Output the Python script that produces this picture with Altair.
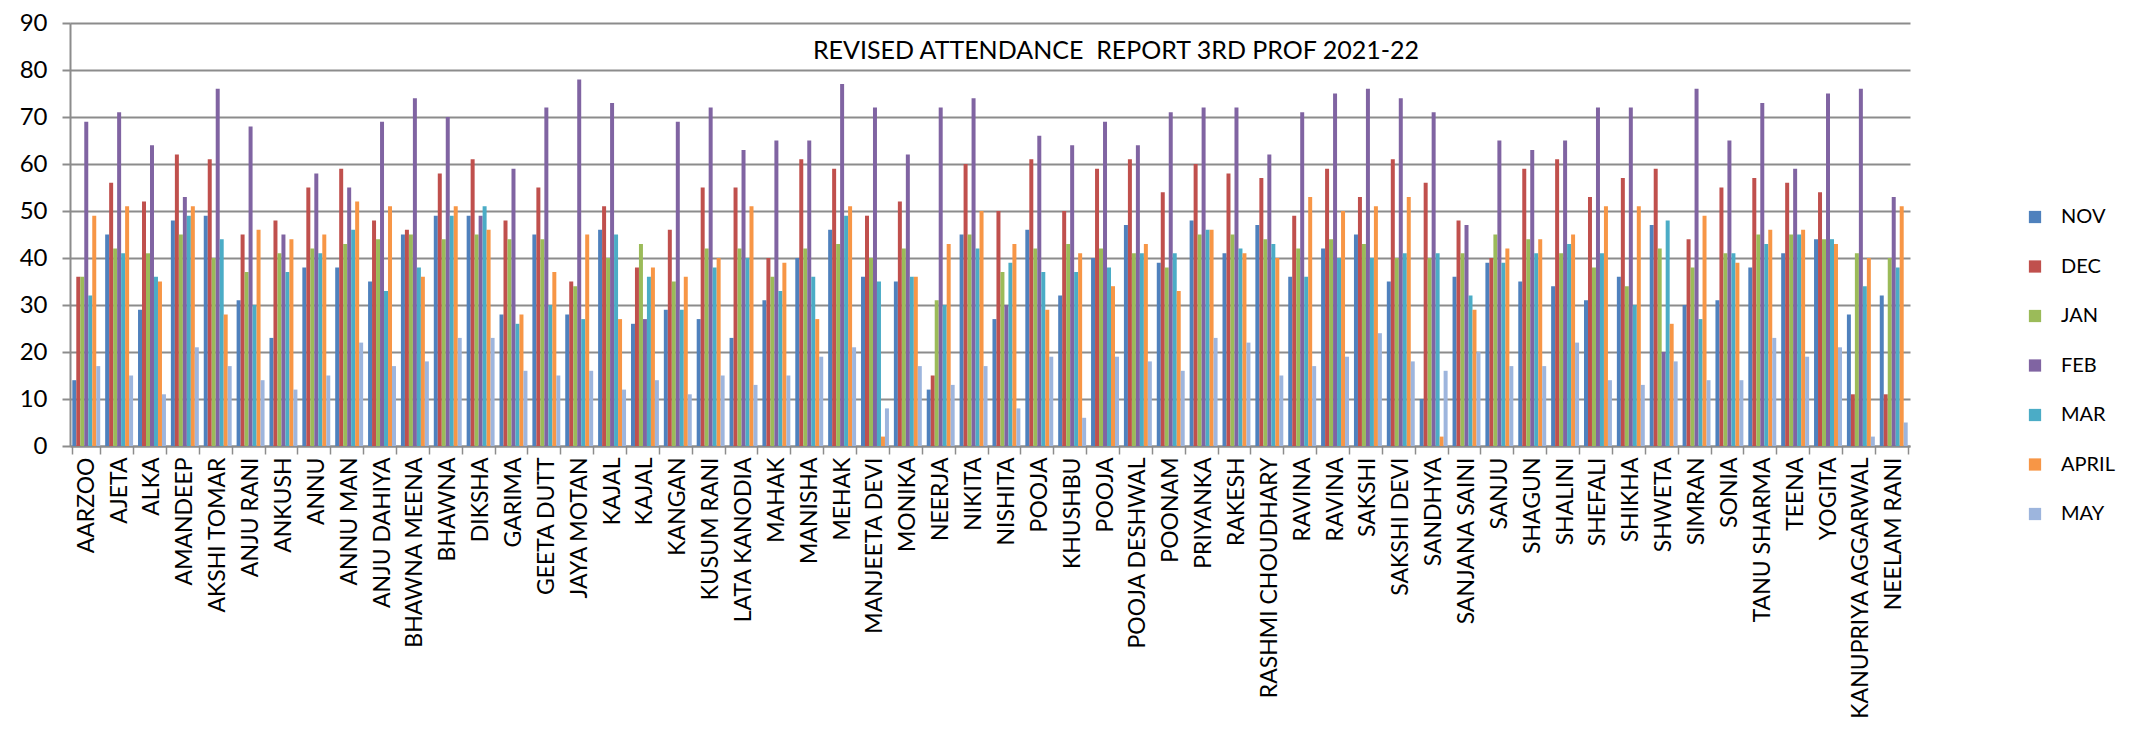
import altair as alt
import pandas as pd

names = ["AARZOO", "AJETA", "ALKA", "AMANDEEP", "AKSHI TOMAR", "ANJU RANI", "ANKUSH", "ANNU",
         "ANNU MAN", "ANJU DAHIYA", "BHAWNA MEENA", "BHAWNA", "DIKSHA", "GARIMA", "GEETA DUTT",
         "JAYA MOTAN", "KAJAL", "KAJAL", "KANGAN", "KUSUM RANI", "LATA KANODIA", "MAHAK",
         "MANISHA", "MEHAK", "MANJEETA DEVI", "MONIKA", "NEERJA", "NIKITA", "NISHITA", "POOJA",
         "KHUSHBU", "POOJA", "POOJA DESHWAL", "POONAM", "PRIYANKA", "RAKESH", "RASHMI CHOUDHARY",
         "RAVINA", "RAVINA", "SAKSHI", "SAKSHI DEVI", "SANDHYA", "SANJANA SAINI", "SANJU",
         "SHAGUN", "SHALINI", "SHEFALI", "SHIKHA", "SHWETA", "SIMRAN", "SONIA", "TANU SHARMA",
         "TEENA", "YOGITA", "KANUPRIYA AGGARWAL", "NEELAM RANI"]

months = ["NOV", "DEC", "JAN", "FEB", "MAR", "APRIL", "MAY"]
colors = ["#4F81BD", "#C0504D", "#9BBB59", "#8064A2", "#4BACC6", "#F79646", "#9DB5DD"]

nov = [14, 45, 29, 48, 49, 31, 23, 38, 38, 35, 45, 49, 49, 28, 45, 28, 46, 26, 29, 27, 23, 31,
       40, 46, 36, 35, 12, 45, 27, 46, 32, 40, 47, 39, 48, 41, 47, 36, 42, 45, 35, 10, 36, 39,
       35, 34, 31, 36, 47, 30, 31, 38, 41, 44, 28, 32]
dec = [36, 56, 52, 62, 61, 45, 48, 55, 59, 48, 46, 58, 61, 48, 55, 35, 51, 38, 46, 55, 55, 40,
       61, 59, 49, 52, 15, 60, 50, 61, 50, 59, 61, 54, 60, 58, 57, 49, 59, 53, 61, 56, 48, 40,
       59, 61, 53, 57, 59, 44, 55, 57, 56, 54, 11, 11]
jan = [36, 42, 41, 45, 40, 37, 41, 42, 43, 44, 45, 44, 45, 44, 44, 34, 40, 43, 35, 42, 42, 36,
       42, 43, 40, 42, 31, 45, 37, 42, 43, 42, 41, 38, 45, 45, 44, 42, 44, 43, 40, 40, 41, 45,
       44, 41, 38, 34, 42, 38, 41, 45, 45, 44, 41, 40]
feb = [69, 71, 64, 53, 76, 68, 45, 58, 55, 69, 74, 70, 49, 59, 72, 78, 73, 27, 69, 72, 63, 65,
       65, 77, 72, 62, 72, 74, 30, 66, 64, 69, 64, 71, 72, 72, 62, 71, 75, 76, 74, 71, 47, 65,
       63, 65, 72, 72, 20, 76, 65, 73, 59, 75, 76, 53]
mar = [32, 41, 36, 49, 44, 30, 37, 41, 46, 33, 38, 49, 51, 26, 30, 27, 45, 36, 29, 38, 40, 33,
       36, 49, 35, 36, 30, 42, 39, 37, 37, 38, 41, 41, 46, 42, 43, 36, 40, 40, 41, 41, 32, 39,
       41, 43, 41, 30, 48, 27, 41, 43, 45, 44, 34, 38]
apr = [49, 51, 35, 51, 28, 46, 44, 45, 52, 51, 36, 51, 46, 28, 37, 45, 27, 38, 36, 40, 51, 39,
       27, 51, 2, 36, 43, 50, 43, 29, 41, 34, 43, 33, 46, 41, 40, 53, 50, 51, 53, 2, 29, 42,
       44, 45, 51, 51, 26, 49, 39, 46, 46, 43, 40, 51]
may = [17, 15, 11, 21, 17, 14, 12, 15, 22, 17, 18, 23, 23, 16, 15, 16, 12, 14, 11, 15, 13, 15,
       19, 21, 8, 17, 13, 17, 8, 19, 6, 19, 18, 16, 23, 22, 15, 17, 19, 24, 18, 16, 20, 17,
       17, 22, 14, 13, 18, 14, 14, 23, 19, 21, 2, 5]

series = [nov, dec, jan, feb, mar, apr, may]
rows = []
for m, vals in zip(months, series):
    for i, v in enumerate(vals):
        rows.append({"idx": i, "month": m, "value": v})
df = pd.DataFrame(rows)

name_js = "[" + ",".join("'" + n + "'" for n in names) + "]"
FONT = "Lato"
GRID = "#8C8C8C"

chart = alt.Chart(df).mark_bar().encode(
    x=alt.X("idx:O", title=None,
            scale=alt.Scale(paddingInner=0.15, paddingOuter=0.07),
            axis=alt.Axis(labelExpr=name_js + "[datum.value]", labelAngle=-90,
                          labelFontSize=23, labelFont=FONT, labelColor="#000000",
                          labelLimit=0, labelOverlap=False,
                          tickBand="extent", tickSize=8, tickColor=GRID, tickWidth=1.5,
                          domainColor=GRID, domainWidth=2, labelPadding=3)),
    xOffset=alt.XOffset("month:N", sort=months, scale=alt.Scale(paddingInner=0, paddingOuter=0)),
    y=alt.Y("value:Q", title=None,
            scale=alt.Scale(domain=[0, 90], nice=False),
            axis=alt.Axis(values=list(range(0, 91, 10)), labelFontSize=24, labelFont=FONT,
                          labelColor="#000000", tickSize=8, tickColor=GRID, tickWidth=2,
                          gridColor=GRID, gridWidth=2, domainColor=GRID, domainWidth=2,
                          labelPadding=15)),
    color=alt.Color("month:N", sort=months,
                    scale=alt.Scale(domain=months, range=colors),
                    legend=alt.Legend(title=None, orient="none", legendX=1955, legendY=184,
                                      symbolType="square", symbolSize=150, symbolStrokeWidth=0,
                                      labelFontSize=20, labelFont=FONT, labelColor="#000000",
                                      rowPadding=29.5, labelOffset=16)),
).properties(
    width=1840, height=423,
    padding={"left": 11, "top": 3, "right": 5, "bottom": 5},
    title=alt.TitleParams("REVISED ATTENDANCE\u00a0 REPORT 3RD PROF 2021-22", orient="top",
                          anchor="middle", offset=-53, dx=126, fontSize=25, font=FONT,
                          fontWeight="normal", color="#000000"),
).configure_view(stroke=None)

chart.save("out.html", embed_options={"renderer": "svg", "actions": False})
